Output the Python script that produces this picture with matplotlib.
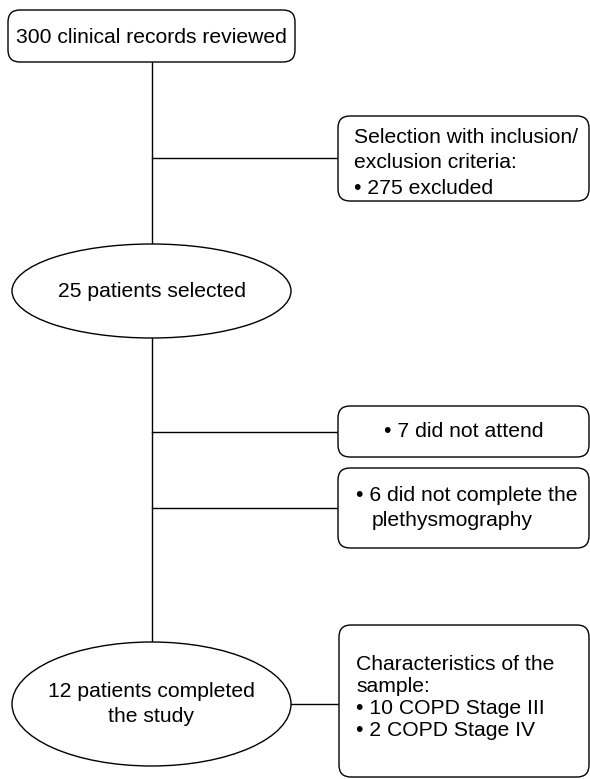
import matplotlib
matplotlib.use("Agg")
import matplotlib.pyplot as plt
from matplotlib.patches import FancyBboxPatch, Ellipse

plt.rcParams['font.family'] = ['Liberation Sans', 'DejaVu Sans']

# Flowchart content
top_box_text = "300 clinical records reviewed"
exclusion_text = ["Selection with inclusion/", "exclusion criteria:", "\u2022 275 excluded"]
selected_text = "25 patients selected"
not_attend_text = "\u2022 7 did not attend"
not_complete_lines = ["\u2022 6 did not complete the", "plethysmography"]
completed_text = "12 patients completed\nthe study"
sample_lines = ["Characteristics of the", "sample:", "\u2022 10 COPD Stage III", "\u2022 2 COPD Stage IV"]

W, H = 590, 779
fig = plt.figure(figsize=(W / 100, H / 100), dpi=100)
ax = fig.add_axes([0, 0, 1, 1])
ax.set_xlim(0, W)
ax.set_ylim(H, 0)
ax.axis('off')

LW = 1.0
FS = 15.2
kw_line = dict(color='black', lw=LW, zorder=1)


def rbox(x0, y0, x1, y1, r=12):
    p = FancyBboxPatch((x0, y0), x1 - x0, y1 - y0,
                       boxstyle=f"round,pad=0,rounding_size={r}",
                       fc='white', ec='black', lw=LW, zorder=2)
    ax.add_patch(p)


def ell(cx, cy, w, h):
    e = Ellipse((cx, cy), w, h, fc='white', ec='black', lw=LW, zorder=2)
    ax.add_patch(e)


# connectors
ax.plot([152, 152], [62, 244], **kw_line)
ax.plot([152, 338], [158, 158], **kw_line)
ax.plot([152, 152], [338, 642], **kw_line)
ax.plot([152, 338], [432, 432], **kw_line)
ax.plot([152, 338], [508, 508], **kw_line)
ax.plot([291, 339], [704, 704], **kw_line)

# top box
rbox(8, 10, 295, 62)
ax.text(151.5, 37, top_box_text, ha='center', va='center', fontsize=FS, zorder=3)

# exclusion box
rbox(338, 116, 589, 201)
for i, s in enumerate(exclusion_text):
    ax.text(354, 137 + i * 25.5, s, ha='left', va='center', fontsize=FS, zorder=3)

# selected ellipse
ell(151.5, 291, 279, 94)
ax.text(151.5, 291, selected_text, ha='center', va='center', fontsize=FS, zorder=3)

# did not attend
rbox(338, 406, 589, 457)
ax.text(464, 431, not_attend_text, ha='center', va='center', fontsize=FS, zorder=3)

# did not complete
rbox(338, 468, 589, 548)
ax.text(356, 495, not_complete_lines[0], ha='left', va='center', fontsize=FS, zorder=3)
ax.text(372, 520, not_complete_lines[1], ha='left', va='center', fontsize=FS, zorder=3)

# completed ellipse
ell(151.5, 704, 279, 124)
ax.text(151.5, 704, completed_text, ha='center', va='center', fontsize=FS,
        linespacing=1.38, zorder=3)

# sample characteristics
rbox(339, 625, 589, 777)
for i, s in enumerate(sample_lines):
    ax.text(356, 665 + i * 22, s, ha='left', va='center', fontsize=FS, zorder=3)

fig.savefig("out.png", dpi=100)
